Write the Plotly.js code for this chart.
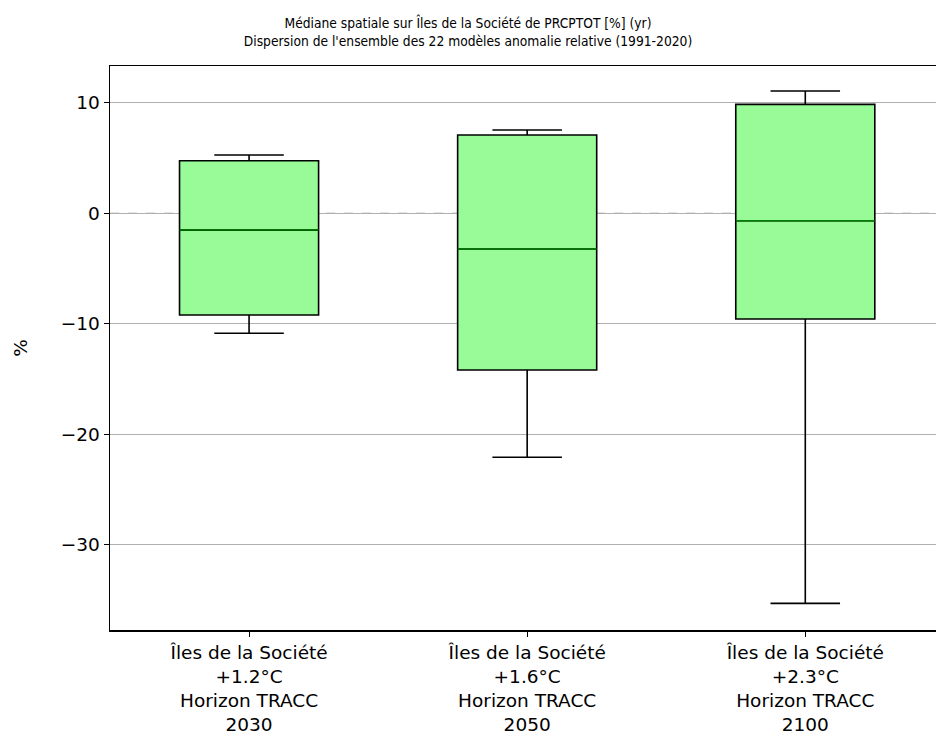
<!DOCTYPE html>
<html>
<head>
<meta charset="utf-8">
<script src="https://cdn.plot.ly/plotly-3.0.1.min.js"></script>
<style>html,body{margin:0;padding:0;background:#fff;}</style>
</head>
<body>
<div id="chart" style="width:936px;height:738px;"></div>
<script>
const categories = [
  "Îles de la Société<br>+1.2°C<br>Horizon TRACC<br>2030",
  "Îles de la Société<br>+1.6°C<br>Horizon TRACC<br>2050",
  "Îles de la Société<br>+2.3°C<br>Horizon TRACC<br>2100"
];
const positions = [0, 1, 2];
const lowerWhisker = [-10.86, -22.08, -35.3];
const q1Values = [-9.2, -14.18, -9.57];
const medianValues = [-1.52, -3.23, -0.67];
const q3Values = [4.76, 7.09, 9.86];
const upperWhisker = [5.28, 7.54, 11.07];
const yTicks = [-30, -20, -10, 0, 10];
const yTickLabels = ["−30", "−20", "−10", "0", "10"];

const boxTrace = {
  type: "box",
  x: positions,
  q1: q1Values,
  median: medianValues,
  q3: q3Values,
  lowerfence: lowerWhisker,
  upperfence: upperWhisker,
  width: 0.5,
  whiskerwidth: 0.5,
  fillcolor: "#98FB98",
  line: {color: "#000000", width: 1.6},
  hoverinfo: "skip",
  showlegend: false
};
const medianTrace = {
  type: "box",
  x: positions,
  q1: medianValues,
  median: medianValues,
  q3: medianValues,
  lowerfence: medianValues,
  upperfence: medianValues,
  width: 0.5,
  whiskerwidth: 0,
  fillcolor: "rgba(0,0,0,0)",
  line: {color: "#008000", width: 1.5},
  hoverinfo: "skip",
  showlegend: false
};

const layout = {
  width: 936,
  height: 738,
  margin: {l: 110, r: 0, t: 66, b: 108},
  paper_bgcolor: "#ffffff",
  plot_bgcolor: "#ffffff",
  boxmode: "overlay",
  font: {family: "DejaVu Sans", color: "#000000"},
  title: {
    text: "Médiane spatiale sur Îles de la Société de PRCPTOT [%] (yr)<br>Dispersion de l'ensemble des 22 modèles anomalie relative (1991-2020)",
    font: {family: "DejaVu Sans Condensed, Liberation Sans Narrow, DejaVu Sans", size: 13.7, color: "#000000"},
    x: 0.5, xref: "container", xanchor: "center",
    y: 0.962, yref: "container", yanchor: "top"
  },
  xaxis: {
    range: [-0.5, 2.47],
    tickmode: "array",
    tickvals: positions,
    ticktext: categories,
    ticks: "outside",
    ticklen: 5,
    tickwidth: 1,
    tickcolor: "#000",
    tickfont: {size: 18.5, family: "DejaVu Sans"},
    showgrid: false,
    zeroline: false,
    showline: true,
    linecolor: "#000",
    linewidth: 1.5,
    mirror: true
  },
  yaxis: {
    range: [-37.71, 13.33],
    tickmode: "array",
    tickvals: yTicks,
    ticktext: yTickLabels,
    ticks: "outside",
    ticklen: 5,
    tickwidth: 1,
    tickcolor: "#000",
    tickfont: {size: 18.5, family: "DejaVu Sans"},
    showgrid: true,
    gridcolor: "#b0b0b0",
    gridwidth: 1,
    zeroline: false,
    showline: true,
    linecolor: "#000",
    linewidth: 1.5,
    mirror: false,
    title: {text: "%", font: {size: 18.5, family: "DejaVu Sans"}, standoff: 28}
  },
  shapes: [
    {type: "line", xref: "paper", yref: "y", x0: 0, x1: 1, y0: 0, y1: 0, layer: "below",
     line: {color: "#ffffff", width: 2}},
    {type: "line", xref: "paper", yref: "y", x0: 0, x1: 1, y0: 0, y1: 0, layer: "below",
     line: {color: "#c8c8c8", width: 1.5, dash: "dash"}}
  ]
};

Plotly.newPlot("chart", [boxTrace, medianTrace], layout, {displayModeBar: false, staticPlot: true});
</script>
</body>
</html>
